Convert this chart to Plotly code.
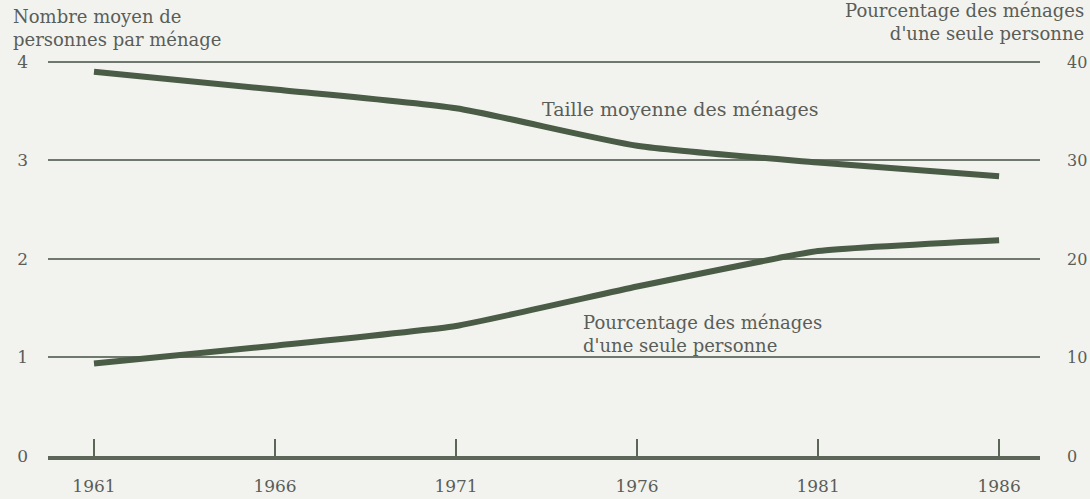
import plotly.graph_objects as go

years = [1961, 1966, 1971, 1976, 1981, 1986]
taille_moyenne = [3.90, 3.72, 3.53, 3.15, 2.98, 2.84]
pct_une_personne = [9.4, 11.2, 13.2, 17.2, 20.8, 21.9]
left_ticks = [0, 1, 2, 3, 4]
right_ticks = [0, 10, 20, 30, 40]

line_color = "#4a5b46"
text_color = "#5a5d58"
font_family = "DejaVu Serif"

fig = go.Figure()
fig.add_trace(go.Scatter(
    x=years, y=taille_moyenne, mode="lines",
    line=dict(color=line_color, width=6, shape="spline", smoothing=0.6),
    cliponaxis=False, showlegend=False, hoverinfo="skip"))
fig.add_trace(go.Scatter(
    x=years, y=pct_une_personne, mode="lines", yaxis="y2",
    line=dict(color=line_color, width=6, shape="spline", smoothing=0.4),
    cliponaxis=False, showlegend=False, hoverinfo="skip"))

fig.update_layout(
    width=1090, height=499,
    margin=dict(l=48, r=50, t=59, b=43),
    paper_bgcolor="#f2f3ef", plot_bgcolor="#f2f3ef",
    font=dict(family=font_family, color=text_color, size=17),
    xaxis=dict(range=[1959.73, 1987.13], tickvals=years, automargin=False,
               ticks="inside", ticklen=17, tickwidth=2, tickcolor="#5b6558",
               showgrid=False, zeroline=False,
               showline=True, linewidth=4, linecolor="#5b6558",
               ticklabelstandoff=12, tickfont=dict(size=17)),
    yaxis=dict(range=[0, 4.03], tickvals=left_ticks, showgrid=True, automargin=False,
               gridcolor="#6f786c", gridwidth=1.5, zeroline=False,
               ticks="", ticklabelstandoff=19, tickfont=dict(size=17)),
    yaxis2=dict(range=[0, 40.3], tickvals=right_ticks, overlaying="y", side="right",
                showgrid=False, zeroline=False, ticks="", automargin=False,
                ticklabelstandoff=26, tickfont=dict(size=16)),
    annotations=[
        dict(text="Nombre moyen de<br>personnes par ménage", xref="paper", yref="paper",
             x=-0.037, y=1.017, xanchor="left", yanchor="bottom", align="left",
             showarrow=False, font=dict(size=18)),
        dict(text="Pourcentage des ménages<br>d'une seule personne", xref="paper", yref="paper",
             x=1.046, y=1.032, xanchor="right", yanchor="bottom", align="right",
             showarrow=False, font=dict(size=18)),
        dict(text="Taille moyenne des ménages", xref="x", yref="y",
             x=1977.2, y=3.52, xanchor="center", yanchor="middle",
             showarrow=False, font=dict(size=19)),
        dict(text="Pourcentage des ménages<br>d'une seule personne", xref="x", yref="y",
             x=1974.44, y=1.24, xanchor="left", yanchor="middle", align="left",
             showarrow=False, font=dict(size=18)),
    ],
)

fig.write_html("out.html", config={"displayModeBar": False},
               post_script="document.body.style.margin='0';document.body.style.background='#f2f3ef';")
